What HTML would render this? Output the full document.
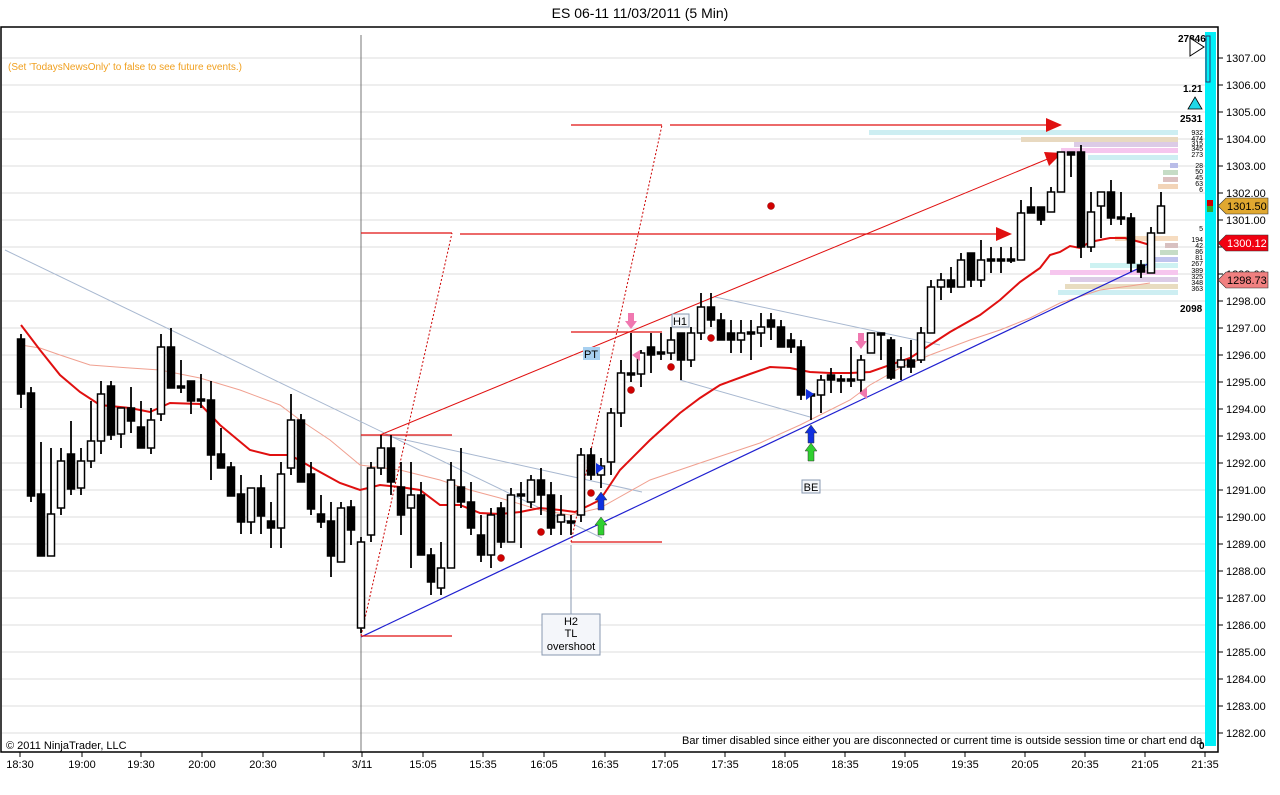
<!DOCTYPE html>
<html><head><meta charset="utf-8">
<style>
html,body{margin:0;padding:0;background:#fff;}
svg{display:block;font-family:"Liberation Sans",sans-serif;}
</style></head>
<body>
<svg id="c" width="1280" height="795" viewBox="0 0 1280 795" xmlns="http://www.w3.org/2000/svg">
<rect width="1280" height="795" fill="#fff"/>
<text x="640" y="18" font-size="14" text-anchor="middle" fill="#000">ES 06-11  11/03/2011 (5 Min)</text>
<g id="grid"></g>
<g id="prof"></g>
<g id="lines"></g>
<g id="candles"></g>
<g id="marks"></g>
<rect x="1" y="27" width="1217" height="725" fill="none" stroke="#000" stroke-width="1.5"/>
<rect x="1205" y="32" width="11" height="714" fill="#00f0f8"/>
<rect x="1206" y="36" width="4" height="46" fill="none" stroke="#336" stroke-width="1"/>
<g id="axis"></g>
<text x="8" y="70" font-size="10" fill="#f0a020">(Set 'TodaysNewsOnly' to false to see future events.)</text>
<text x="6" y="749" font-size="11" fill="#000">© 2011 NinjaTrader, LLC</text>
<text x="682" y="744" font-size="11" fill="#000">Bar timer disabled since either you are disconnected or current time is outside session time or chart end da</text>
<text x="1178" y="42" font-size="10" font-weight="bold">27846</text>
<polygon points="1190,38 1204,47 1190,56" fill="#fff" stroke="#000"/>
<text x="1183" y="92" font-size="10" font-weight="bold">1.21</text>
<polygon points="1195,97 1202,109 1188,109" fill="#20d8e8" stroke="#000" stroke-width="0.8"/>
<text x="1180" y="122" font-size="10" font-weight="bold">2531</text>
<text x="1180" y="312" font-size="10" font-weight="bold">2098</text>
<text x="1199" y="749" font-size="10" font-weight="bold">0</text>
<rect x="1207" y="200" width="6" height="6" fill="#c00"/><rect x="1207" y="206" width="6" height="6" fill="#3a3"/>
</svg>
<script>
const NS="http://www.w3.org/2000/svg";
function el(p,t,a,txt){const e=document.createElementNS(NS,t);for(const k in a)e.setAttribute(k,a[k]);if(txt!==undefined)e.textContent=txt;document.getElementById(p).appendChild(e);return e;}
const Y=p=>58+(1307-p)*27;
for(let p=1282;p<=1307;p++){const y=Y(p);
 el('grid','line',{x1:2,x2:1205,y1:y,y2:y,stroke:'#dcdcdc','stroke-width':1});
 el('axis','line',{x1:1218,x2:1223,y1:y,y2:y,stroke:'#000'});
 el('axis','text',{x:1226,y:y+4,'font-size':11},p+'.00');}
el('axis','line',{x1:1218,x2:1218,y1:27,y2:752,stroke:'#000'});
const xl=[[20,'18:30'],[82,'19:00'],[141,'19:30'],[202,'20:00'],[263,'20:30'],[324,''],[362,'3/11'],[423,'15:05'],[483,'15:35'],[544,'16:05'],[605,'16:35'],[665,'17:05'],[725,'17:35'],[785,'18:05'],[845,'18:35'],[905,'19:05'],[965,'19:35'],[1025,'20:05'],[1085,'20:35'],[1145,'21:05'],[1205,'21:35']];
xl.forEach(([x,t])=>{el('axis','line',{x1:x,x2:x,y1:752,y2:757,stroke:'#000'});if(t)el('axis','text',{x:x,y:768,'font-size':11,'text-anchor':'middle'},t);});
el('lines','line',{x1:361,x2:361,y1:35,y2:752,stroke:'#777','stroke-width':1});
const pr=[[130,869,'#cdeef2'],[137,1021,'#e8d9c0'],[142,1074,'#dccbe6'],[148,1061,'#f6c6ee'],[155,1088,'#cdeef2'],[163,1170,'#b9bce8'],[170,1163,'#c6dcc6'],[177,1163,'#dcc0c0'],[184,1158,'#f2d4b8'],
[236,1115,'#f6dcc0'],[243,1165,'#d8c0c0'],[250,1160,'#c6dcc6'],[257,1150,'#c0c4ee'],[263,1090,'#cdf2f2'],[270,1050,'#f6c6ee'],[277,1070,'#dccbe6'],[284,1065,'#e8dcc0'],[290,1058,'#cdeef2']];
pr.forEach(([y,x,c])=>el('prof','rect',{x:x,y:y,width:1178-x,height:5,fill:c}));
const nums=[[132,'932'],[138,'474'],[143,'315'],[148,'345'],[154,'273'],[165,'28'],[171,'50'],[177,'45'],[183,'63'],[189,'6'],[228,'5'],[239,'194'],[245,'42'],[251,'86'],[257,'81'],[263,'267'],[270,'389'],[276,'325'],[282,'348'],[288,'363']];
nums.forEach(([y,t])=>el('prof','text',{x:1203,y:y+3,'font-size':7,'text-anchor':'end'},t));
function pl(pts,c,w,extra){const a={points:pts.map(p=>p.join(',')).join(' '),fill:'none',stroke:c,'stroke-width':w};Object.assign(a,extra||{});return el('lines','polyline',a);}
pl([[5,250],[602,538]],'#a8b8d0',1);
pl([[383,435],[642,492]],'#a8b8d0',1);
pl([[715,297],[940,345]],'#a8b8d0',1);
pl([[680,380],[810,417]],'#a8b8d0',1);
pl([[21,345],[40,348],[60,355],[90,365],[130,368],[160,370],[200,378],[240,390],[280,405],[300,420],[330,440],[360,465],[400,470],[440,480],[470,490],[500,498],[540,510],[570,515],[600,508],[650,480],[700,463],[760,443],[800,425],[820,415],[850,400],[870,385],[900,368],[930,355],[970,340],[1000,330],[1030,318],[1060,303],[1100,290],[1130,286],[1150,283]],'#f0a090',1);
pl([[21,325],[40,350],[60,375],[80,392],[100,405],[130,408],[150,412],[170,403],[200,404],[220,425],[250,450],[270,455],[290,455],[320,472],[340,483],[360,490],[380,485],[400,487],[420,490],[440,505],[460,505],[480,513],[500,514],[520,512],[540,508],[560,510],[575,512],[590,505],[600,500],[620,470],[650,440],[680,413],[700,398],[720,385],[750,374],[770,367],[790,368],[810,372],[830,373],[850,373],[870,372],[890,365],[910,358],[930,345],[950,332],[980,315],[1000,300],[1020,282],[1040,268],[1050,255],[1060,252],[1070,246],[1080,248],[1090,242],[1110,238],[1125,238],[1140,242],[1150,245]],'#e01010',2);
pl([[361,637],[1150,263]],'#2020d0',1.2);
[[571,662,125],[361,452,233],[361,452,435],[361,452,636],[571,662,332],[571,662,542]].forEach(([a,b,y])=>pl([[a,y],[b,y]],'#e01010',1.2));
pl([[361,636],[452,233]],'#c00',1,{'stroke-dasharray':'2,2'});
pl([[571,542],[662,125]],'#c00',1,{'stroke-dasharray':'2,2'});
pl([[380,435],[1050,158]],'#e01010',1);
pl([[670,125],[1048,125]],'#e01010',1.2);
pl([[460,234],[998,234]],'#e01010',1.2);
el('lines','polygon',{points:'1062,125 1046,118 1046,132',fill:'#e01010'});
el('lines','polygon',{points:'1012,234 996,227 996,241',fill:'#e01010'});
el('lines','polygon',{points:'1062,153 1044,152 1049,166',fill:'#e01010'});
const C=[[334,408,339,394,1],[387,502,393,496,1],[442,556,494,556,1],[448,556,514,556,0],[448,515,461,508,0],[421,495,454,489,1],[448,495,461,488,0],[401,468,441,461,0],[381,454,394,441,0],[381,440,386,435,1],
[408,448,408,434,0],[387,433,408,421,1],[401,448,427,448,1],[408,454,420,448,0],[334,421,347,414,0],[328,388,347,388,1],[360,393,386,388,1],[381,414,381,401,1],[374,408,399,401,1],[381,480,400,455,1],
[428,468,454,468,1],[462,496,467,496,1],[475,534,494,522,1],[488,534,488,522,0],[475,534,488,516,1],[502,548,521,528,1],[462,548,474,528,0],[394,475,420,468,0],[414,482,420,482,1],[462,515,474,509,1],
[495,528,514,522,1],[502,577,521,556,1],[502,562,508,562,0],[500,545,507,530,1],[537,633,542,628,0],[462,542,468,535,0],[435,475,448,468,0],[435,495,448,482,1],[462,535,487,515,1],[462,568,495,508,0],
[482,555,495,555,1],[548,595,555,582,1],[542,595,568,588,0],[462,568,480,568,0],[448,508,487,502,1],[482,535,502,528,1],[515,562,535,555,1],[508,568,515,555,0],[502,548,508,542,1],[488,542,495,542,0],
[482,548,494,496,1],[475,508,480,502,0],[468,515,480,495,1],[482,535,495,528,1],[495,535,515,522,0],[515,535,521,523,1],[448,522,455,515,0],[448,480,455,475,1],[458,488,466,475,0],[408,475,413,462,0],
[360,427,373,413,0],[333,382,373,375,1],[350,387,353,374,0],[333,373,347,355,1],[333,360,352,354,1],[327,360,340,353,0],[333,380,333,360,1],[327,367,333,360,0],[293,340,307,333,0],[293,327,307,320,1],
[313,340,320,340,1],[320,353,333,340,1],[320,353,333,340,0],[320,360,332,334,1],[313,347,327,333,0],[313,340,320,327,1],[320,347,327,347,1],[333,353,340,347,1],[340,400,347,395,1],[393,420,394,396,1],
[375,413,380,395,0],[368,393,375,380,1],[375,393,379,381,1],[347,387,379,381,1],[355,393,360,380,0],[333,353,333,353,0],[333,360,333,335,1],[337,380,340,378,1],[347,380,360,367,0],[340,373,360,367,1],
[327,363,333,360,0],[280,333,287,333,0],[273,300,280,287,0],[267,293,280,287,1],[253,287,260,287,0],[253,287,253,280,1],[240,287,260,280,0],[247,273,259,261,1],[247,273,259,261,1],[247,263,259,261,1],
[200,260,213,260,0],[187,213,207,213,1],[207,225,207,220,1],[187,212,192,212,0],[152,192,152,192,0],[152,177,152,155,1],[145,258,152,247,1],[192,252,212,247,0],[192,238,192,206,0],[180,225,192,218,1],
[192,225,217,219,1],[213,272,218,263,1],[260,278,265,272,1],[227,273,233,273,0],[192,233,206,233,0]];
C.forEach((c,i)=>{const x=21+10*i;let [h,l,t,b,f]=c;if(b-t<2){b=t+2;}
 el('candles','line',{x1:x,x2:x,y1:h,y2:l,stroke:'#000','stroke-width':1.8});
 el('candles','rect',{x:x-3.5,y:t,width:7,height:b-t,fill:f?'#000':'#fff',stroke:'#000','stroke-width':1.5});});
[[771,206],[541,532],[501,558],[591,493],[631,390],[671,367],[711,338]].forEach(([x,y])=>el('marks','circle',{cx:x,cy:y,r:3.5,fill:'#d00000',stroke:'#800','stroke-width':0.5}));
function up(x,y,c){el('marks','polygon',{points:`${x},${y} ${x+6},${y+8} ${x+3},${y+8} ${x+3},${y+18} ${x-3},${y+18} ${x-3},${y+8} ${x-6},${y+8}`,fill:c,stroke:'#333','stroke-width':0.5});}
function dn(x,y,c){el('marks','polygon',{points:`${x},${y+16} ${x+6},${y+8} ${x+3},${y+8} ${x+3},${y} ${x-3},${y} ${x-3},${y+8} ${x-6},${y+8}`,fill:c});}
up(601,517,'#30d030');up(811,443,'#30d030');up(601,492,'#1030e0');up(811,425,'#1030e0');
dn(631,313,'#f078b0');dn(861,333,'#f078b0');
el('marks','polygon',{points:'596,463 604,468 596,474',fill:'#1030e0'});
el('marks','polygon',{points:'806,389 814,394 806,400',fill:'#1030e0'});
el('marks','polygon',{points:'640,350 632,355 640,361',fill:'#f078b0'});
el('marks','polygon',{points:'867,388 859,393 867,399',fill:'#f078b0'});
el('marks','line',{x1:571,x2:571,y1:545,y2:614,stroke:'#8898b0'});
el('marks','rect',{x:542,y:614,width:58,height:41,fill:'#f4f6fa',stroke:'#8898b0'});
el('marks','text',{x:571,y:625,'font-size':11,'text-anchor':'middle'},'H2');
el('marks','text',{x:571,y:637,'font-size':11,'text-anchor':'middle'},'TL');
el('marks','text',{x:571,y:650,'font-size':11,'text-anchor':'middle'},'overshoot');
el('marks','rect',{x:583,y:347,width:17,height:13,fill:'#a8d0f0'});
el('marks','text',{x:591,y:358,'font-size':11,'text-anchor':'middle'},'PT');
el('marks','rect',{x:672,y:314,width:17,height:13,fill:'#f4f6fa',stroke:'#8898b0'});
el('marks','text',{x:680,y:325,'font-size':11,'text-anchor':'middle'},'H1');
el('marks','rect',{x:802,y:480,width:18,height:13,fill:'#f4f6fa',stroke:'#8898b0'});
el('marks','text',{x:811,y:491,'font-size':11,'text-anchor':'middle'},'BE');
function tag(y,c,t,tc){el('axis','polygon',{points:`1218,${y} 1226,${y-8} 1268,${y-8} 1268,${y+8} 1226,${y+8}`,fill:c,stroke:'#333','stroke-width':0.6});el('axis','text',{x:1227,y:y+4,'font-size':11,fill:tc},t);}
tag(206,'#e0a830','1301.50','#000');tag(243,'#f00010','1300.12','#fff');tag(280,'#f08080','1298.73','#000');
</script>
</body></html>
